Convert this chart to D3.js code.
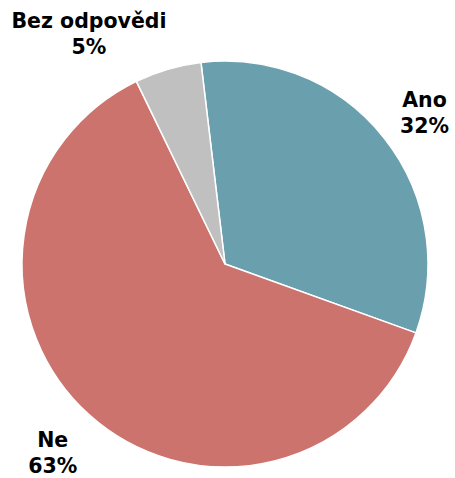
<!DOCTYPE html>
<html>
<head>
<meta charset="utf-8">
<script src="https://cdn.jsdelivr.net/npm/d3@7"></script>
<style>
  html, body { margin: 0; padding: 0; background: #fff; }
  svg { display: block; }
</style>
</head>
<body>
<svg id="chart"></svg>
<script>
// answers and their shares (percent)
const categories = ['Ano', 'Ne', 'Bez odpovědi']
const values = [32.4, 62.3, 5.3]
const labels = ['32%', '63%', '5%']
const colors = ['#6a9fae', '#cc736e', '#c0c0c0']

const width = 455
const height = 478
const cx = 225
const cy = 264
const radius = 203
// first slice starts a little left of 12 o'clock
const startAngle = -6.8 * Math.PI / 180

// where the labels sit: angle (deg, clockwise from top) and distance from center
const labelAngle = [54.2, 221.3, 328.6]
const labelDist = [246, 261, 261]

const svg = d3.select('#chart')
              .attr('width', width)
              .attr('height', height)
              .attr('font-family', 'DejaVu Sans, Verdana, sans-serif')

const pie = d3.pie()
              .sort(null)
              .value(d => d)
              .startAngle(startAngle)
              .endAngle(startAngle + 2 * Math.PI)
const arc = d3.arc().innerRadius(0).outerRadius(radius)

const g = svg.append('g').attr('transform', `translate(${cx},${cy})`)

g.selectAll('path')
 .data(pie(values))
 .join('path')
   .attr('d', arc)
   .attr('fill', (d, i) => colors[i])
   .attr('stroke', '#fff')
   .attr('stroke-width', 1.5)
   .attr('stroke-linejoin', 'round')

const lab = g.selectAll('text')
 .data(categories)
 .join('text')
   .attr('text-anchor', 'middle')
   .attr('font-weight', 'bold')
   .attr('font-size', 20.5)
   .attr('fill', '#000')
   .attr('transform', (d, i) => {
       const a = labelAngle[i] * Math.PI / 180
       return `translate(${labelDist[i] * Math.sin(a)},${-labelDist[i] * Math.cos(a)})`
   })
// two lines: name, then percentage
lab.append('tspan')
   .attr('x', 0)
   .attr('dy', -13)
   .text(d => d)
lab.append('tspan')
   .attr('x', 0)
   .attr('dy', 26)
   .text((d, i) => labels[i])
</script>
</body>
</html>
